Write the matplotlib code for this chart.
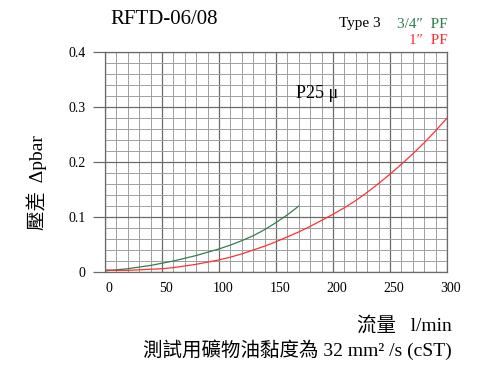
import matplotlib
matplotlib.use('Agg')
import matplotlib.pyplot as plt
from matplotlib.ticker import MultipleLocator
from matplotlib.transforms import ScaledTranslation

plt.rcParams['font.family'] = ['Liberation Serif', 'Noto Sans CJK TC']

# flow (l/min) vs pressure drop (bar)
flow_34 = [0, 10, 20, 30, 40, 50, 60, 70, 80, 90, 100, 110, 120, 130, 140, 150, 160, 170]
dp_34 = [0.002, 0.004, 0.006, 0.009, 0.012, 0.016, 0.020, 0.025, 0.030, 0.036,
         0.042, 0.049, 0.057, 0.066, 0.077, 0.090, 0.104, 0.120]

flow_1 = [0, 10, 20, 30, 40, 50, 60, 70, 80, 90, 100, 110, 120, 130, 140, 150,
          160, 170, 180, 190, 200, 210, 220, 230, 240, 250, 260, 270, 280, 290, 300]
dp_1 = [0.004, 0.003, 0.003, 0.004, 0.005, 0.006, 0.008, 0.011, 0.014, 0.018,
        0.022, 0.027, 0.033, 0.040, 0.047, 0.055, 0.064, 0.073, 0.083, 0.094,
        0.105, 0.117, 0.130, 0.145, 0.161, 0.178, 0.196, 0.215, 0.235, 0.257, 0.280]

x_ticks = [0, 50, 100, 150, 200, 250, 300]
y_ticks = [0, 0.1, 0.2, 0.3, 0.4]
y_labels = ['0', '0.1', '0.2', '0.3', '0.4']

green = '#2f7f4f'
red = '#ff3030'

fig = plt.figure(figsize=(4.9, 3.74), dpi=100)
ax = fig.add_axes([0.2143, 0.2727, 0.698, 0.588])

ax.plot(flow_34, dp_34, color=green, lw=0.9)
ax.plot(flow_1, dp_1, color=red, lw=0.9)

ax.set_xlim(0, 300)
ax.set_ylim(0, 0.4)
ax.set_xticks(x_ticks)
ax.set_yticks(y_ticks)
ax.set_yticklabels(y_labels)
ax.xaxis.set_minor_locator(MultipleLocator(10))
ax.yaxis.set_minor_locator(MultipleLocator(0.02))
ax.grid(which='major', color='#6a6a6a', lw=0.9)
ax.grid(which='minor', color='#a0a0a0', lw=0.7)
ax.set_axisbelow(True)
for s in ax.spines.values():
    s.set_color('#6a6a6a')
    s.set_linewidth(0.9)

ax.tick_params(axis='x', which='both', length=0, pad=7, labelsize=10)
ax.tick_params(axis='y', which='major', length=9, width=0.9, color='#6a6a6a', pad=5, labelsize=10)
ax.tick_params(axis='y', which='minor', length=0)
for lbl in ax.get_xticklabels():
    lbl.set_transform(lbl.get_transform() + ScaledTranslation(4 / 100, 0, fig.dpi_scale_trans))

fig.text(110 / 490, 1 - 19 / 374, 'RFTD-06/08', fontsize=15, ha='left', va='center')
fig.text(381 / 490, 1 - 24 / 374, 'Type 3', fontsize=11, ha='right', va='center')
fig.text(448 / 490, 1 - 24 / 374, '3/4\u2033  PF', fontsize=11, ha='right', va='center', color=green)
fig.text(448 / 490, 1 - 40 / 374, '1\u2033  PF', fontsize=11, ha='right', va='center', color=red)
fig.text(296 / 490, 1 - 94 / 374, 'P25 \u03bc', fontsize=13, ha='left', va='center')

fig.text(37 / 490, 1 - 183 / 374, '壓差  \u0394pbar', fontsize=14, rotation=90, ha='center', va='center')
fig.text(452 / 490, 1 - 325 / 374, '流量   l/min', fontsize=14, ha='right', va='center')
fig.text(452 / 490, 1 - 350 / 374, '測試用礦物油黏度為 32 mm² /s (cST)', fontsize=14, ha='right', va='center')

fig.savefig('out.png', dpi=100)
